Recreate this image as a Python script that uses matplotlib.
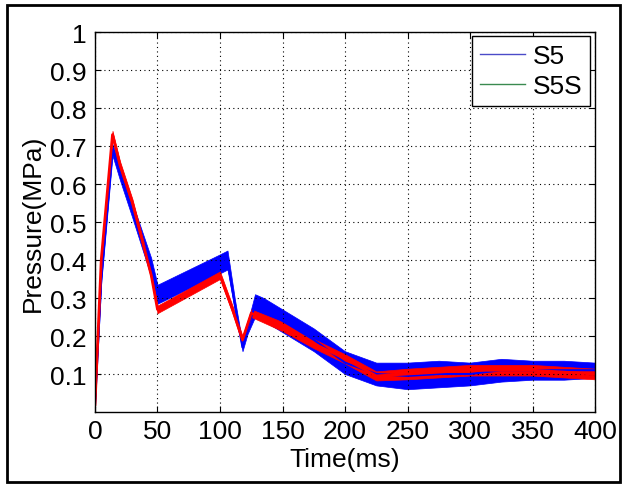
import numpy as np
import matplotlib.pyplot as plt
from matplotlib.lines import Line2D
from matplotlib.patches import Rectangle

plt.rcParams['font.family'] = ['Liberation Sans', 'DejaVu Sans']

# S5 (blue, noisy) - centre line and half width of the noise band
t_s5 = [0, 5, 14, 20, 30, 45, 50, 75, 100, 106, 112, 118, 122, 128, 135, 150,
        175, 200, 225, 250, 275, 300, 325, 350, 375, 400]
p_s5 = [0.02, 0.35, 0.69, 0.63, 0.53, 0.38, 0.31, 0.35, 0.39, 0.40, 0.28, 0.17,
        0.22, 0.28, 0.27, 0.24, 0.19, 0.13, 0.10, 0.095, 0.10, 0.10, 0.11, 0.11,
        0.11, 0.11]
w_s5 = [0.005, 0.01, 0.015, 0.02, 0.02, 0.025, 0.025, 0.025, 0.025, 0.025, 0.015,
        0.01, 0.015, 0.03, 0.03, 0.03, 0.03, 0.03, 0.03, 0.035, 0.035, 0.03, 0.03,
        0.025, 0.025, 0.02]

# S5S (red) - centre line and half width
t_s5s = [0, 5, 14, 20, 30, 45, 50, 75, 100, 110, 118, 125, 150, 175, 200, 225,
         250, 275, 300, 325, 350, 375, 400]
p_s5s = [0.02, 0.40, 0.73, 0.65, 0.55, 0.36, 0.27, 0.315, 0.36, 0.27, 0.19, 0.26,
         0.225, 0.18, 0.14, 0.095, 0.10, 0.105, 0.11, 0.11, 0.11, 0.105, 0.10]
w_s5s = [0.005, 0.008, 0.01, 0.01, 0.01, 0.01, 0.01, 0.01, 0.01, 0.01, 0.01, 0.01,
         0.012, 0.012, 0.012, 0.012, 0.014, 0.014, 0.014, 0.014, 0.014, 0.014, 0.014]

xticks = [0, 50, 100, 150, 200, 250, 300, 350, 400]
yticks = [0.1, 0.2, 0.3, 0.4, 0.5, 0.6, 0.7, 0.8, 0.9, 1.0]
ytick_labels = ['0.1', '0.2', '0.3', '0.4', '0.5', '0.6', '0.7', '0.8', '0.9', '1']

fig = plt.figure(figsize=(6.27, 4.89), dpi=100)
ax = fig.add_axes([0.1515, 0.1554, 0.7975, 0.777])

p1 = np.array(p_s5); h1 = np.array(w_s5)
p2 = np.array(p_s5s); h2 = np.array(w_s5s)

ax.fill_between(t_s5, p1 - h1, p1 + h1, color='#0000ff', lw=0.5)
ax.plot(t_s5, p_s5, color='#0000ff', lw=1.5)
ax.fill_between(t_s5s, p2 - h2, p2 + h2, color='#ff0000', lw=0.5)
ax.plot(t_s5s, p_s5s, color='#ff0000', lw=2)

ax.set_xlim(0, 400)
ax.set_ylim(0, 1)
ax.set_xticks(xticks)
ax.set_yticks(yticks)
ax.set_yticklabels(ytick_labels)
ax.tick_params(direction='in', top=True, right=True, labelsize=19, length=4)
ax.tick_params(axis='x', pad=5)
ax.tick_params(axis='y', pad=6)
ax.grid(True, color='black', linestyle=(0, (1, 3)), lw=0.8)
for s in ax.spines.values():
    s.set_linewidth(1)

ax.set_xlabel('Time(ms)', fontsize=19, labelpad=3)
ax.set_ylabel('Pressure(MPa)', fontsize=19, labelpad=4)

handles = [Line2D([], [], color='#4b4bc8', lw=1),
           Line2D([], [], color='#3a8a50', lw=1)]
leg = ax.legend(handles, ['S5', 'S5S'], loc='upper right', fontsize=19,
                fancybox=False, framealpha=1, edgecolor='black',
                handlelength=1.7, handletextpad=0.3, borderpad=0.3,
                labelspacing=0.25, borderaxespad=0,
                bbox_to_anchor=(0.99, 0.99))
leg.get_frame().set_linewidth(1)

fig.patches.append(Rectangle((0.011, 0.012), 0.978, 0.976, transform=fig.transFigure,
                             fill=False, edgecolor='black', lw=2))

fig.savefig('out.png', dpi=100)
